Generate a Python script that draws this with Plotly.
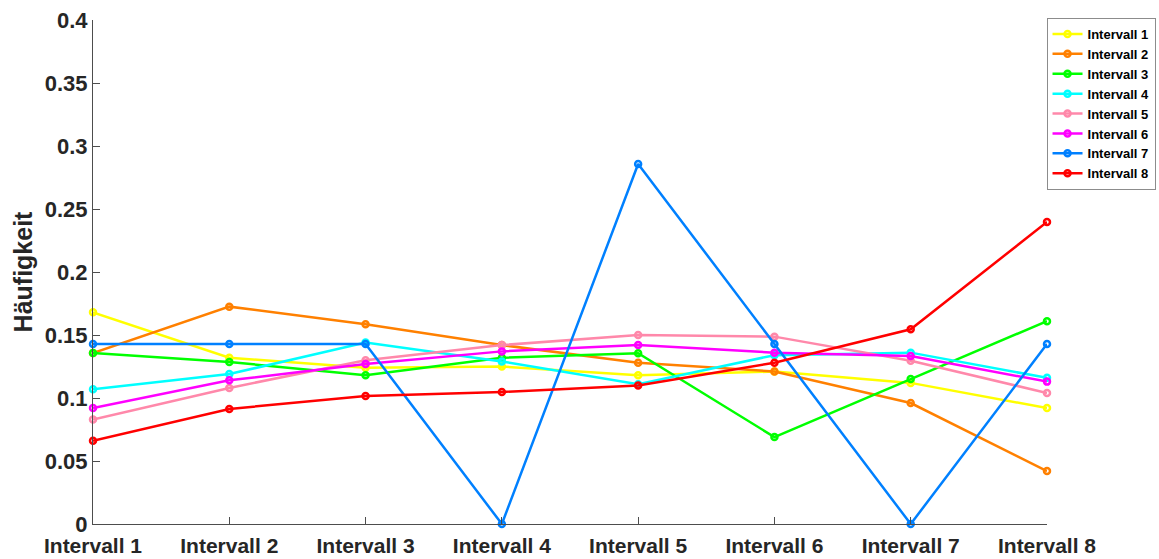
import plotly.graph_objects as go

categories = ["Intervall 1", "Intervall 2", "Intervall 3", "Intervall 4",
              "Intervall 5", "Intervall 6", "Intervall 7", "Intervall 8"]

series_names = ["Intervall 1", "Intervall 2", "Intervall 3", "Intervall 4",
                "Intervall 5", "Intervall 6", "Intervall 7", "Intervall 8"]

intervall_1 = [0.168, 0.132, 0.124, 0.125, 0.118, 0.121, 0.112, 0.092]
intervall_2 = [0.1357, 0.1725, 0.1585, 0.142, 0.128, 0.121, 0.096, 0.042]
intervall_3 = [0.1357, 0.1286, 0.118, 0.132, 0.1355, 0.069, 0.115, 0.161]
intervall_4 = [0.107, 0.119, 0.144, 0.129, 0.111, 0.134, 0.136, 0.116]
intervall_5 = [0.083, 0.108, 0.130, 0.142, 0.150, 0.1487, 0.1296, 0.104]
intervall_6 = [0.092, 0.114, 0.127, 0.137, 0.142, 0.136, 0.1333, 0.113]
intervall_7 = [0.142857, 0.142857, 0.142857, 0.0, 0.285714, 0.142857, 0.0, 0.142857]
intervall_8 = [0.066, 0.0913, 0.1016, 0.1048, 0.110, 0.128, 0.1545, 0.2397]

y_ticks = [0, 0.05, 0.1, 0.15, 0.2, 0.25, 0.3, 0.35, 0.4]
y_tick_labels = ["0", "0.05", "0.1", "0.15", "0.2", "0.25", "0.3", "0.35", "0.4"]

all_series = [intervall_1, intervall_2, intervall_3, intervall_4,
              intervall_5, intervall_6, intervall_7, intervall_8]
colors = ["#FFFF00", "#FF8000", "#00FF00", "#00FFFF",
          "#FF88AA", "#FF00FF", "#0080FF", "#FF0000"]

x_pos = list(range(1, len(categories) + 1))

fig = go.Figure()
for name, values, color in zip(series_names, all_series, colors):
    fig.add_trace(go.Scatter(
        x=x_pos, y=values, name=f"<b>{name}</b>", mode="lines+markers",
        line=dict(color=color, width=2.5),
        marker=dict(symbol="circle-open", size=6, color=color,
                    line=dict(width=2.5, color=color)),
        cliponaxis=False,
    ))

tick_font = dict(family="Liberation Sans", size=22, color="#262626")
xtick_font = dict(family="Liberation Sans", size=21, color="#262626")
title_font = dict(family="Liberation Sans", size=25, color="#262626")

fig.update_layout(
    width=1159, height=559,
    margin=dict(l=93, r=112, t=20, b=35, autoexpand=False),
    paper_bgcolor="white", plot_bgcolor="white",
    showlegend=True,
    legend=dict(
        x=0.9995, y=1.004, xanchor="left", yanchor="top",
        bordercolor="#8c8c8c", borderwidth=1, bgcolor="white",
        font=dict(family="Liberation Sans", size=13, color="#000000"),
        tracegroupgap=0, itemwidth=30,
    ),
    xaxis=dict(
        range=[1, 8], tickvals=x_pos, ticktext=[f"<b>{c}</b>" for c in categories],
        showline=True, linecolor="#4d4d4d", linewidth=1,
        ticks="inside", ticklen=7, tickcolor="#4d4d4d",
        showgrid=False, zeroline=False, automargin=False,
        ticklabelstandoff=3,
        tickfont=xtick_font,
    ),
    yaxis=dict(
        range=[0, 0.4], tickvals=y_ticks, ticktext=[f"<b>{t}</b>" for t in y_tick_labels],
        showline=True, linecolor="#4d4d4d", linewidth=1,
        ticks="inside", ticklen=7, tickcolor="#4d4d4d",
        showgrid=False, zeroline=False, automargin=False,
        tickfont=tick_font,
        title=dict(text="<b>Häufigkeit</b>", font=title_font, standoff=5),
    ),
)

fig.write_html("out.html")
